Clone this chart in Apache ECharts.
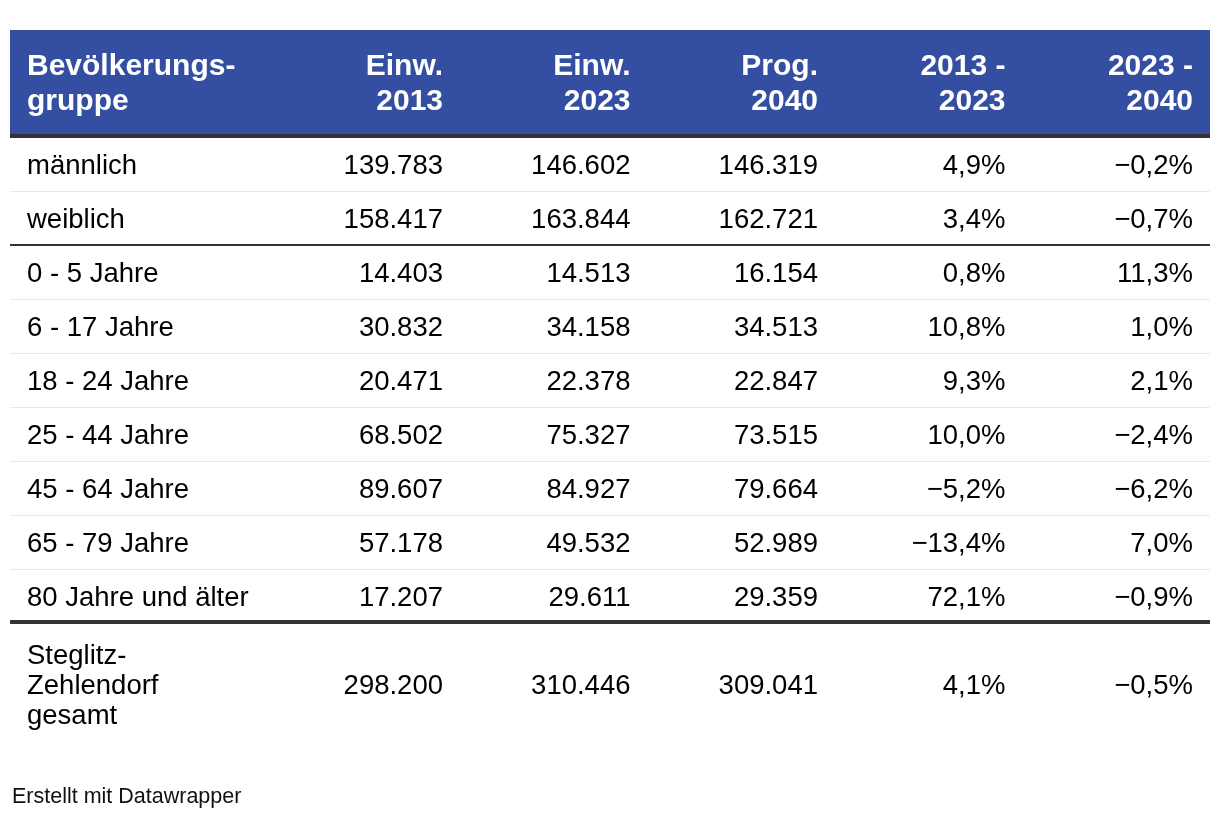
<!DOCTYPE html>
<html>
<head>
<meta charset="utf-8">
<script src="https://cdn.jsdelivr.net/npm/echarts@6/dist/echarts.min.js"></script>
<style>
html,body{margin:0;padding:0;background:#fff;}
#chart{width:1220px;height:816px;}
</style>
</head>
<body>
<div id="chart"></div>
<script>
// ---- data ----
var headers = ['Bevölkerungs-\ngruppe', 'Einw.\n2013', 'Einw.\n2023', 'Prog.\n2040', '2013 -\n2023', '2023 -\n2040'];
var categories = ['männlich', 'weiblich', '0 - 5 Jahre', '6 - 17 Jahre', '18 - 24 Jahre', '25 - 44 Jahre',
  '45 - 64 Jahre', '65 - 79 Jahre', '80 Jahre und älter', 'Steglitz-\nZehlendorf\ngesamt'];
var einw2013 = [139783, 158417, 14403, 30832, 20471, 68502, 89607, 57178, 17207, 298200];
var einw2023 = [146602, 163844, 14513, 34158, 22378, 75327, 84927, 49532, 29611, 310446];
var prog2040 = [146319, 162721, 16154, 34513, 22847, 73515, 79664, 52989, 29359, 309041];
var chg2013_2023 = [4.9, 3.4, 0.8, 10.8, 9.3, 10.0, -5.2, -13.4, 72.1, 4.1];
var chg2023_2040 = [-0.2, -0.7, 11.3, 1.0, 2.1, -2.4, -6.2, 7.0, -0.9, -0.5];
var footer = 'Erstellt mit Datawrapper';

// ---- formatting ----
function fmtInt(v) {
  return String(v).replace(/\B(?=(\d{3})+(?!\d))/g, '.');
}
function fmtPct(v) {
  var s = Math.abs(v).toFixed(1).replace('.', ',') + '%';
  return (v < 0 ? '\u2212' : '') + s;
}

// ---- layout (table units) ----
var FIRST_W = 1.4;           // first column width in x-units
var N_COLS = 6;
var X_MAX = FIRST_W + (N_COLS - 1);
var HEADER_H = 2;            // header height in row units
var TOTAL_H = 2.25;          // total row height
var Y_MAX = HEADER_H + 9 + TOTAL_H;
var PAD = 17;
var FONT = '"Liberation Sans", Arial, Helvetica, sans-serif';

function colLeft(c) { return c === 0 ? 0 : FIRST_W + (c - 1); }
function colRight(c) { return c === 0 ? FIRST_W : FIRST_W + c; }

// build cells
var cells = [];
headers.forEach(function (h, c) {
  cells.push({ value: [c, 0, HEADER_H], text: h, kind: 'header' });
});
var colsData = [null, einw2013, einw2023, prog2040, chg2013_2023, chg2023_2040];
categories.forEach(function (cat, r) {
  var y0 = HEADER_H + r;
  var y1 = r < 9 ? y0 + 1 : y0 + TOTAL_H;
  for (var c = 0; c < N_COLS; c++) {
    var txt;
    if (c === 0) txt = cat;
    else if (c <= 3) txt = fmtInt(colsData[c][r]);
    else txt = fmtPct(colsData[c][r]);
    cells.push({ value: [c, y0, y1], text: txt, kind: r < 9 ? 'body' : 'total' });
  }
});

// rules
var rules = [];
rules.push({ value: [0, HEADER_H], kind: 'headerbg' });
rules.push({ value: [HEADER_H, HEADER_H], kind: 'thick' });
for (var r = 1; r < 9; r++) {
  rules.push({ value: [HEADER_H + r, HEADER_H + r], kind: r === 2 ? 'mid' : 'light' });
}
rules.push({ value: [HEADER_H + 9, HEADER_H + 9], kind: 'thick' });

var chart = echarts.init(document.getElementById('chart'), null, { renderer: 'canvas' });

chart.setOption({
  animation: false,
  backgroundColor: '#ffffff',
  title: {
    text: footer,
    left: 12,
    top: 786,
    padding: 0,
    textStyle: { fontFamily: FONT, fontSize: 21.5, fontWeight: 'normal', color: '#111111' }
  },
  grid: { left: 10, top: 30, width: 1200, height: Y_MAX * 54 },
  xAxis: { type: 'value', min: 0, max: X_MAX, show: false },
  yAxis: { type: 'value', min: 0, max: Y_MAX, inverse: true, show: false },
  series: [
    {
      type: 'custom',
      coordinateSystem: 'cartesian2d',
      silent: true,
      z: 1,
      data: rules,
      renderItem: function (params, api) {
        var item = rules[params.dataIndex];
        var y0 = item.value[0], y1 = item.value[1];
        var pL = api.coord([0, y0]);
        var pR = api.coord([X_MAX, y1]);
        if (item.kind === 'headerbg') {
          return {
            type: 'rect',
            shape: { x: pL[0], y: pL[1], width: pR[0] - pL[0], height: pR[1] - pL[1] },
            style: { fill: '#344fa1' }
          };
        }
        var w = item.kind === 'thick' ? 4 : (item.kind === 'mid' ? 2 : 1);
        var col = item.kind === 'light' ? '#e9e9e9' : '#333333';
        return {
          type: 'rect',
          shape: { x: pL[0], y: item.kind === 'light' ? pL[1] - 1 : pL[1] - w, width: pR[0] - pL[0], height: w },
          style: { fill: col }
        };
      }
    },
    {
      type: 'custom',
      coordinateSystem: 'cartesian2d',
      silent: true,
      z: 2,
      data: cells,
      renderItem: function (params, api) {
        var cell = cells[params.dataIndex];
        var c = cell.value[0], y0 = cell.value[1], y1 = cell.value[2];
        var top = api.coord([0, y0])[1];
        var bot = api.coord([0, y1])[1];
        var cy = (top + bot) / 2;
        var isHeader = cell.kind === 'header';
        cy += isHeader ? 0 : (cell.kind === 'total' ? 2 : 1);
        var x = c === 0 ? api.coord([colLeft(c), 0])[0] + PAD : api.coord([colRight(c), 0])[0] - PAD;
        return {
          type: 'text',
          style: {
            text: cell.text,
            x: x,
            y: cy,
            align: c === 0 ? 'left' : 'right',
            verticalAlign: 'middle',
            font: (isHeader ? 'bold 30px ' : '27.5px ') + FONT,
            lineHeight: isHeader ? 35 : 30,
            fill: isHeader ? '#ffffff' : '#000000'
          }
        };
      }
    }
  ]
});
</script>
</body>
</html>
